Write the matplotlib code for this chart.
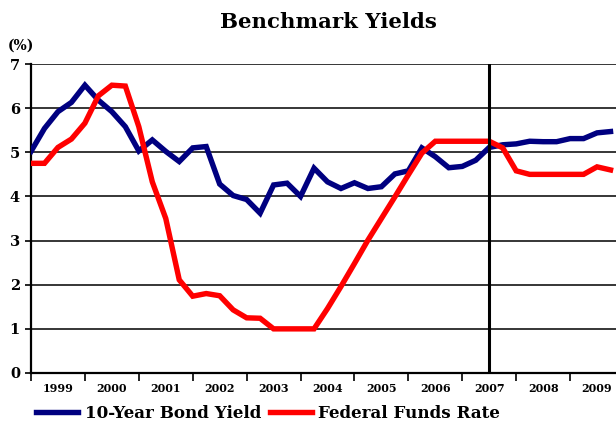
import matplotlib
matplotlib.use("Agg")
import matplotlib.pyplot as plt
import numpy as np

# Quarterly series, 1999 Q1 through 2009 Q4
years = ["1999", "2000", "2001", "2002", "2003", "2004",
         "2005", "2006", "2007", "2008", "2009"]

bond_yield = [5.02, 5.54, 5.92, 6.13, 6.52, 6.18, 5.92, 5.58,
              5.03, 5.28, 5.02, 4.79, 5.10, 5.13, 4.28, 4.02,
              3.93, 3.62, 4.26, 4.30, 4.00, 4.64, 4.33, 4.18,
              4.31, 4.18, 4.22, 4.51, 4.58, 5.10, 4.90, 4.65,
              4.68, 4.82, 5.11, 5.17, 5.19, 5.25, 5.24, 5.24,
              5.31, 5.31, 5.44, 5.47]

fed_funds = [4.75, 4.75, 5.11, 5.30, 5.66, 6.28, 6.52, 6.50,
             5.58, 4.33, 3.50, 2.11, 1.74, 1.80, 1.75, 1.43,
             1.25, 1.24, 1.00, 1.00, 1.00, 1.00, 1.46, 1.96,
             2.48, 3.01, 3.50, 3.99, 4.49, 4.98, 5.25, 5.25,
             5.25, 5.25, 5.25, 5.10, 4.58, 4.50, 4.50, 4.50,
             4.50, 4.50, 4.67, 4.60]

series_names = ["10-Year Bond Yield", "Federal Funds Rate"]
divider_quarter = 34  # 2007 Q3

plt.rcParams["font.family"] = ["DejaVu Serif"]
plt.rcParams["font.weight"] = "bold"

fig = plt.figure(figsize=(6.16, 4.21), dpi=100)
ax = fig.add_axes([31 / 616, 48 / 421, 593 / 616, 309 / 421])

q = np.arange(len(bond_yield))
navy = "#000080"
red = "#ff0000"

for y in range(1, 8):
    ax.axhline(y, color="black", lw=1.1, zorder=1)

l1, = ax.plot(q, bond_yield, color=navy, lw=3.9, solid_joinstyle="miter",
              zorder=3, label=series_names[0])
l2, = ax.plot(q, fed_funds, color=red, lw=3.9, solid_joinstyle="miter",
              zorder=3, label=series_names[1])

ax.axvline(divider_quarter, color="black", lw=2.2, zorder=4)

ax.set_xlim(0, 44)
ax.set_ylim(0, 7)

ax.set_yticks(range(0, 8))
ax.set_yticklabels([str(v) for v in range(0, 8)], fontsize=10.5,
                   fontweight="bold")
ax.tick_params(axis="y", length=4, width=1.2, pad=4)

ax.set_xticks(np.arange(0, 45, 4))
ax.set_xticklabels([])
ax.set_xticks(np.arange(2, 44, 4), minor=True)
ax.set_xticklabels(years, minor=True, fontsize=8, fontweight="bold")
ax.tick_params(axis="x", which="major", length=6, width=1.2)
ax.tick_params(axis="x", which="minor", length=0, pad=7)

for side in ("top", "right"):
    ax.spines[side].set_visible(False)
ax.spines["left"].set_linewidth(1.6)
ax.spines["bottom"].set_linewidth(1.6)

fig.text(328 / 616, 1 - 22 / 421, "Benchmark Yields", ha="center",
         va="center", fontsize=15.3, fontweight="bold")
fig.text(8 / 616, 1 - 46 / 421, "(%)", ha="left", va="center",
         fontsize=10, fontweight="bold")

fig.legend(handles=[l1, l2], loc="center left",
           bbox_to_anchor=(36 / 616, 1 - 413 / 421), ncol=2,
           frameon=False, handlelength=2.5,
           handletextpad=0.4, columnspacing=0.5, borderpad=0,
           borderaxespad=0, prop={"weight": "bold", "size": 12.1})

fig.savefig("out.png", dpi=100)
